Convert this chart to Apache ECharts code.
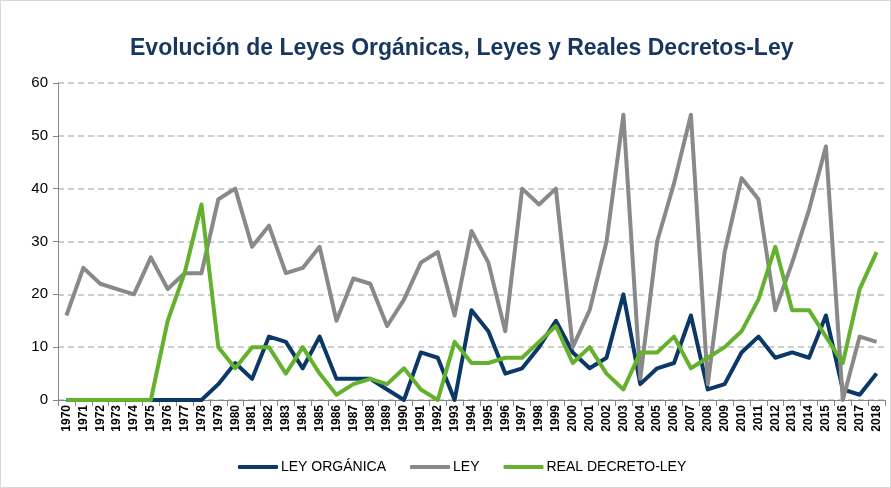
<!DOCTYPE html>
<html><head><meta charset="utf-8">
<script src="https://cdn.jsdelivr.net/npm/echarts@6/dist/echarts.min.js"></script>
<style>html,body{margin:0;padding:0;background:#fff}#c{width:891px;height:488px;box-sizing:border-box;border:1px solid #d9d9d9}</style>
</head><body><div id="c"></div>
<script>
const years = [];
for (let y = 1970; y <= 2018; y++) years.push(String(y));
const leyOrganica = [0,0,0,0,0,0,0,0,0,3,7,4,12,11,6,12,4,4,4,2,0,9,8,0,17,13,5,6,10,15,9,6,8,20,3,6,7,16,2,3,9,12,8,9,8,16,2,1,5];
const ley = [16,25,22,21,20,27,21,24,24,38,40,29,33,24,25,29,15,23,22,14,19,26,28,16,32,26,13,40,37,40,10,17,30,54,4,30,41,54,3,28,42,38,17,26,36,48,0,12,11];
const realDecretoLey = [0,0,0,0,0,0,15,24,37,10,6,10,10,5,10,5,1,3,4,3,6,2,0,11,7,7,8,8,11,14,7,10,5,2,9,9,12,6,8,10,13,19,29,17,17,12,7,21,28];
const yTicks = [0,10,20,30,40,50,60];
const seriesNames = ['LEY ORGÁNICA','LEY','REAL DECRETO-LEY'];
const colors = ['#0B3867','#898989','#64B12E'];

const chart = echarts.init(document.getElementById('c'));
const mk = (name, data, color) => ({
  name, type: 'line', data, symbol: 'none', smooth: false,
  lineStyle: { width: 4, color, join: 'round' }, itemStyle: { color }
});
chart.setOption({
  animation: false,
  title: {
    text: 'Evolución de Leyes Orgánicas, Leyes y Reales Decretos-Ley',
    left: 124, top: 31,
    textStyle: { fontFamily: 'Liberation Sans', fontWeight: 'bold', fontSize: 23, color: '#17375E' }
  },
  legend: {
    bottom: 8, left: 232, itemWidth: 40, itemHeight: 4, itemGap: 24,
    icon: 'roundRect',
    textStyle: { fontFamily: 'Liberation Sans', fontSize: 14, color: '#000', padding: [0, 0, 0, -2] },
    data: seriesNames
  },
  grid: { left: 57, right: 5, top: 82, bottom: 87, containLabel: false },
  xAxis: {
    type: 'category', data: years, boundaryGap: true,
    axisLine: { lineStyle: { color: '#868686', width: 1 } },
    axisTick: { show: true, interval: 0, length: 6, lineStyle: { color: '#868686' } },
    axisLabel: { interval: 0, rotate: 90, fontFamily: 'Liberation Sans', fontSize: 12, fontWeight: 'bold', color: '#000', margin: 5 }
  },
  yAxis: {
    type: 'value', min: 0, max: 60, interval: 10,
    axisLine: { show: true, lineStyle: { color: '#868686' } },
    axisTick: { show: true, length: 5, lineStyle: { color: '#868686' } },
    axisLabel: { fontFamily: 'Liberation Sans', fontSize: 15, color: '#000', margin: 10,
      formatter: v => yTicks.includes(v) ? String(v) : '' },
    splitLine: { lineStyle: { color: '#BFBFBF', width: 1.5, type: [6, 4] } }
  },
  series: [
    mk(seriesNames[0], leyOrganica, colors[0]),
    mk(seriesNames[1], ley, colors[1]),
    mk(seriesNames[2], realDecretoLey, colors[2])
  ]
});
</script></body></html>
